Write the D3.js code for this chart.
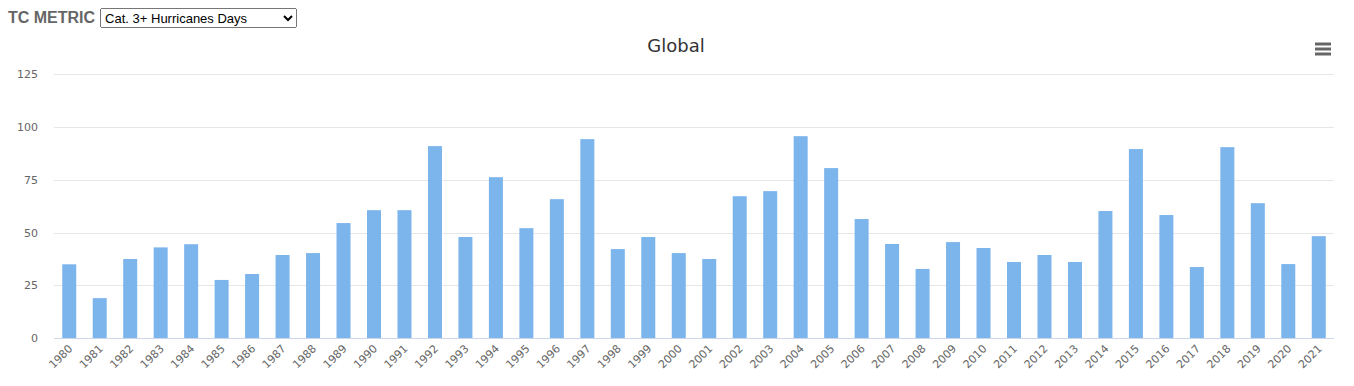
<!DOCTYPE html>
<html><head><meta charset="utf-8">
<script src="https://cdn.jsdelivr.net/npm/d3@7"></script>
<style>
html,body{margin:0;padding:0;background:#fff;width:1354px;height:386px;overflow:hidden;}
#hdr{position:absolute;left:8px;top:8px;font-family:"Liberation Sans",Arial,sans-serif;display:flex;align-items:center;}
#hdr b{font-size:16px;color:#666;margin-right:5px;}
#hdr select{font-family:"Liberation Sans",Arial,sans-serif;font-size:13px;width:197px;height:20px;}
svg{position:absolute;left:0;top:0;}
</style></head><body>
<svg id="c" width="1354" height="386"></svg>
<div id="hdr"><b>TC METRIC</b><select><option>Cat. 3+ Hurricanes Days</option></select></div>
<script>
const years = [1980,1981,1982,1983,1984,1985,1986,1987,1988,1989,1990,1991,1992,1993,1994,1995,1996,1997,1998,1999,2000,2001,2002,2003,2004,2005,2006,2007,2008,2009,2010,2011,2012,2013,2014,2015,2016,2017,2018,2019,2020,2021];
const values = [35,19,37.5,43,44.5,27.6,30.4,39.4,40.3,54.5,60.6,60.6,90.9,47.9,76.2,52.1,65.8,94.2,42.2,47.9,40.3,37.5,67.2,69.6,95.6,80.5,56.4,44.6,32.8,45.5,42.7,36.1,39.4,36.1,60.2,89.5,58.3,33.7,90.4,63.9,35.1,48.3];
const yTicks = [0,25,50,75,100,125];
const chartTitle = "Global";

const svg = d3.select("#c");
const pLeft = 54, pRight = 1334, pTop = 74, pBottom = 338.3;
const x = d3.scaleBand().domain(years).range([pLeft, pRight]).padding(0);
const y = d3.scaleLinear().domain([0,125]).range([pBottom, pTop]);
const font = "'DejaVu Sans', Verdana, sans-serif";

// grid
svg.append("g").selectAll("line").data(yTicks.filter(d=>d>0)).join("line")
  .attr("x1", pLeft).attr("x2", pRight).attr("y1", d=>Math.round(y(d))+0.5).attr("y2", d=>Math.round(y(d))+0.5)
  .attr("stroke", "#e6e6e6").attr("stroke-width", 1);

// y labels
svg.append("g").selectAll("text").data(yTicks).join("text")
  .attr("x", 38).attr("y", d=>y(d)+4).attr("text-anchor","end")
  .attr("font-family", font).attr("font-size", "11px").attr("fill", "#666")
  .text(d=>d);

// bars
const bw = 14;
svg.append("g").selectAll("rect").data(values).join("rect")
  .attr("x", (d,i)=>x(years[i]) + x.bandwidth()/2 - bw/2)
  .attr("width", bw)
  .attr("y", d=>y(d))
  .attr("height", d=>pBottom - y(d))
  .attr("fill", "#7cb5ec");

// x axis line
svg.append("line").attr("x1", pLeft).attr("x2", pRight).attr("y1", Math.round(pBottom)+0.5).attr("y2", Math.round(pBottom)+0.5)
  .attr("stroke", "#ccd6eb").attr("stroke-width", 1);

// x labels
svg.append("g").selectAll("text").data(years).join("text")
  .attr("transform", d=>`translate(${x(d)+x.bandwidth()/2+4},${pBottom+11}) rotate(-45)`)
  .attr("text-anchor","end")
  .attr("font-family", font).attr("font-size", "11px").attr("fill", "#666")
  .text(d=>d);

// title
svg.append("text").attr("x", 676).attr("y", 52).attr("text-anchor","middle")
  .attr("font-family", font).attr("font-size", "18px").attr("fill", "#333").text(chartTitle);

// menu icon
svg.append("g").selectAll("line").data([44,49,54]).join("line")
  .attr("x1", 1315).attr("x2", 1331).attr("y1", d=>d).attr("y2", d=>d)
  .attr("stroke", "#666").attr("stroke-width", 3);
</script>
</body></html>
